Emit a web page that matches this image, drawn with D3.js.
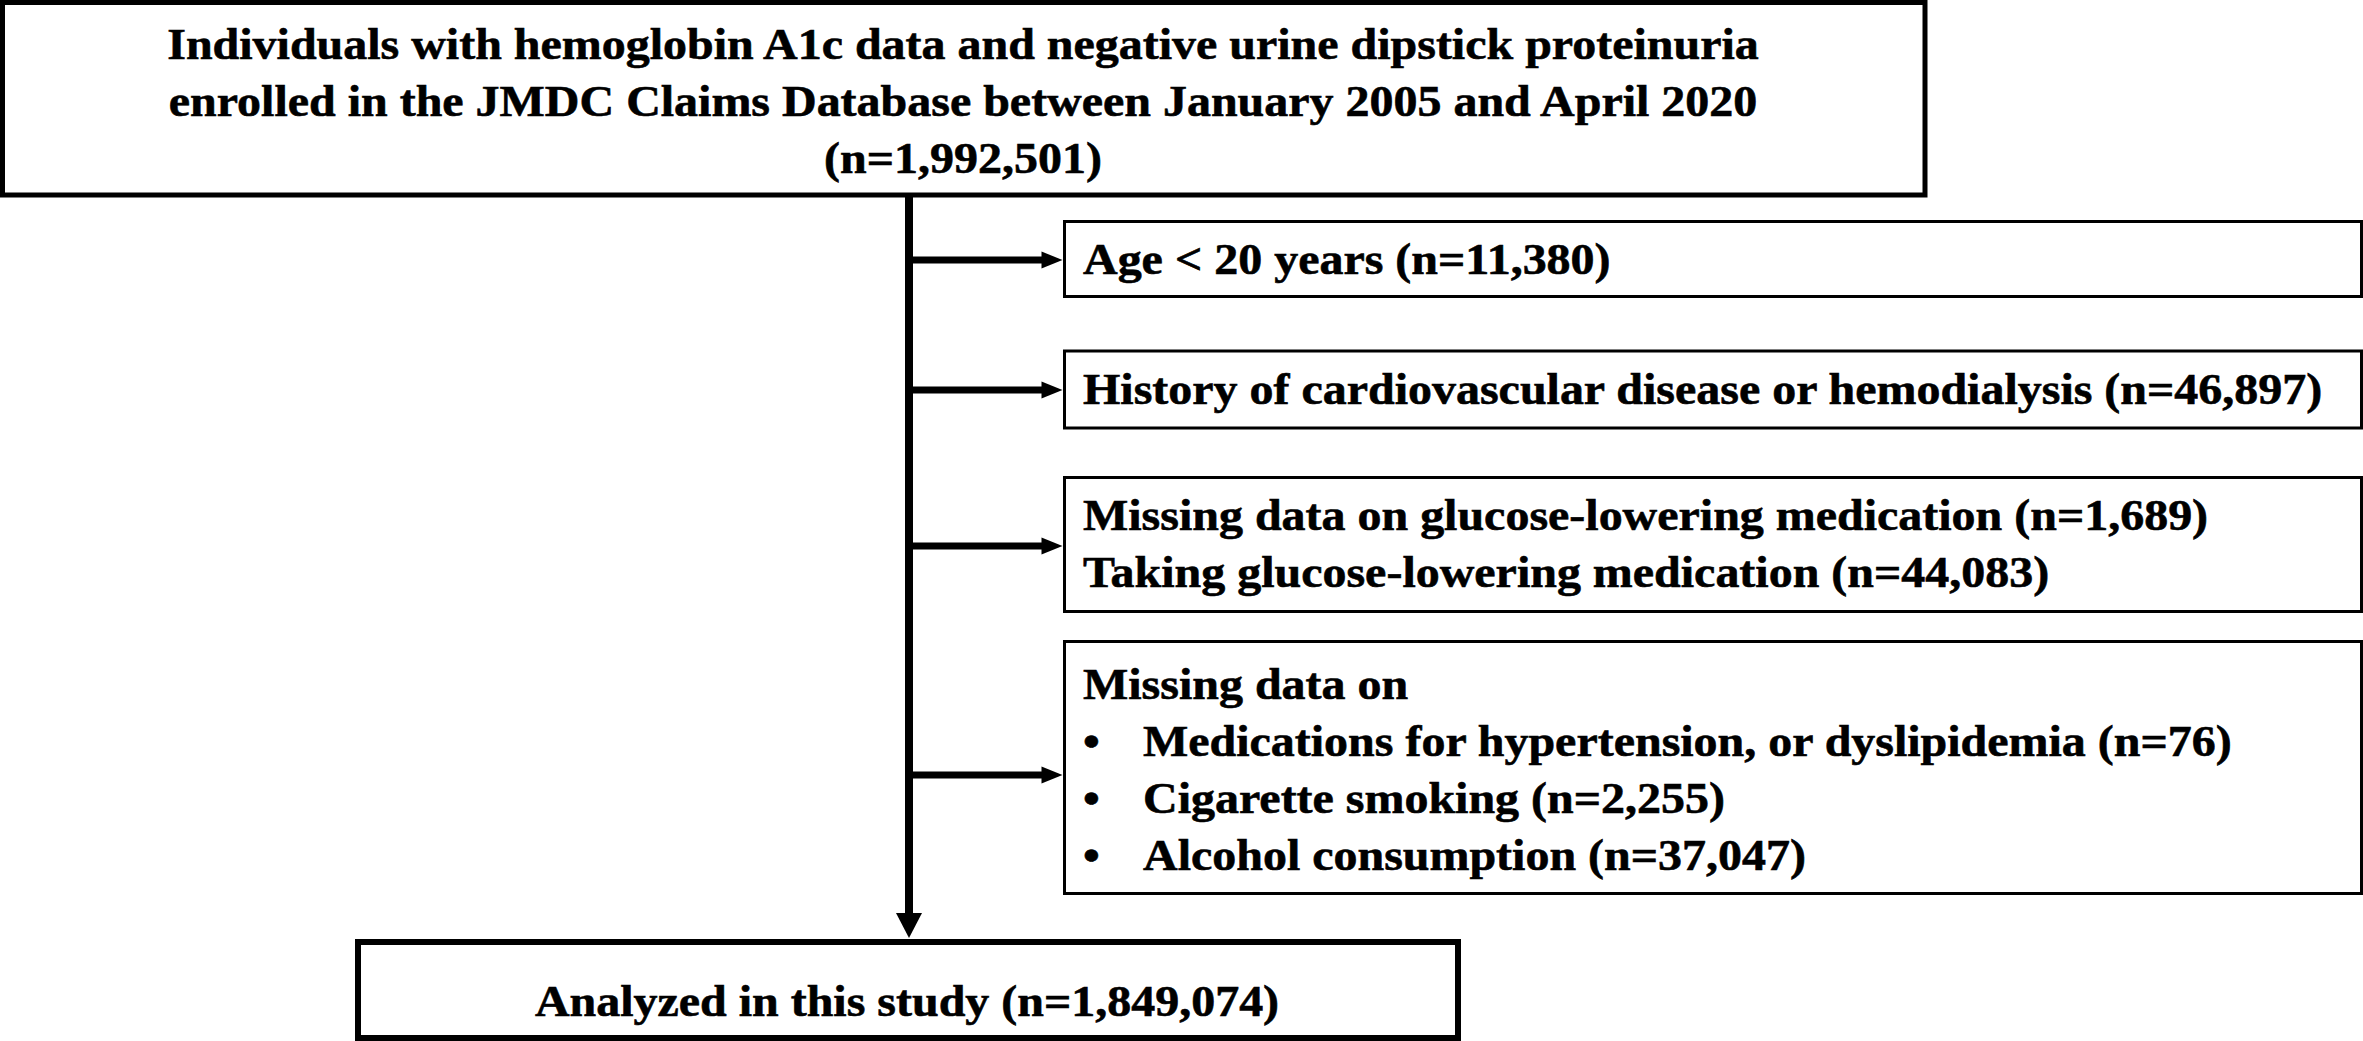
<!DOCTYPE html>
<html>
<head>
<meta charset="utf-8">
<script src="https://cdn.jsdelivr.net/npm/d3@7"></script>
<style>
  html, body { margin: 0; padding: 0; background: #fff; }
  svg { display: block; }
  text { font-family: "Liberation Serif", "Times New Roman", serif; font-weight: bold; fill: #000; stroke: #000; stroke-width: 0.6px; }
</style>
</head>
<body>
<div id="chart"></div>
<script>
// flow numbers
var totalN = 1992501;
var analyzedN = 1849074;

var topLines = [
  "Individuals with hemoglobin A1c data and negative urine dipstick proteinuria",
  "enrolled in the JMDC Claims Database between January 2005 and April 2020"
];
var analyzedLabel = "Analyzed in this study";

var exclusionHeaders = [null, null, null, "Missing data on"];
var exclusionItems = [
  ["Age < 20 years"],
  ["History of cardiovascular disease or hemodialysis"],
  ["Missing data on glucose-lowering medication", "Taking glucose-lowering medication"],
  ["Medications for hypertension, or dyslipidemia", "Cigarette smoking", "Alcohol consumption"]
];
var exclusionCounts = [
  [11380],
  [46897],
  [1689, 44083],
  [76, 2255, 37047]
];
var exclusionBulleted = [false, false, false, true];

var W = 2363, H = 1041;
var fmt = d3.format(",");
var nText = function(n) { return "(n=" + fmt(n) + ")"; };

// layout
var fontSize = 45, stretch = 1.066, lineH = 57;
var stemX = 909;
var exTop = [221.5, 351, 477.5, 641.5],
    exBottom = [296.5, 428, 611.5, 893.5],
    exArrowY = [260, 390, 546, 775],
    exLeft = 1064.5, exRight = 2361.5, textX = 1083;

var svg = d3.select("#chart")
  .append("svg")
  .attr("width", W)
  .attr("height", H);

function label(g, x, y, str, anchor) {
  return g.append("text")
    .attr("transform", "translate(" + x + "," + y + ") scale(" + stretch + ",1)")
    .attr("text-anchor", anchor || "start")
    .style("font-size", fontSize + "px")
    .text(str);
}

// top box
svg.append("rect")
  .attr("x", 2.5).attr("y", 2.5)
  .attr("width", 1922.5).attr("height", 192.5)
  .attr("fill", "none").attr("stroke", "#000").attr("stroke-width", 5);

var topText = topLines.concat([nText(totalN)]);
topText.forEach(function(t, i) {
  label(svg, 963, 59 + i * lineH, t, "middle");
});

// main stem + arrow down
svg.append("line")
  .attr("x1", stemX).attr("x2", stemX)
  .attr("y1", 197).attr("y2", 916)
  .attr("stroke", "#000").attr("stroke-width", 8);
svg.append("path")
  .attr("d", d3.line()([[stemX - 13, 913], [stemX + 13, 913], [stemX, 938]]) + "Z")
  .attr("fill", "#000");

// exclusion boxes
exclusionItems.forEach(function(items, i) {
  var g = svg.append("g");
  g.append("rect")
    .attr("x", exLeft).attr("y", exTop[i])
    .attr("width", exRight - exLeft).attr("height", exBottom[i] - exTop[i])
    .attr("fill", "none").attr("stroke", "#000").attr("stroke-width", 3);

  // arrow from stem
  var ay = exArrowY[i];
  g.append("line")
    .attr("x1", stemX).attr("x2", exLeft - 20)
    .attr("y1", ay).attr("y2", ay)
    .attr("stroke", "#000").attr("stroke-width", 7);
  g.append("path")
    .attr("d", d3.line()([[exLeft - 23, ay - 8.5], [exLeft - 23, ay + 8.5], [exLeft - 2, ay]]) + "Z")
    .attr("fill", "#000");

  var lines = [];
  if (exclusionHeaders[i]) lines.push({ t: exclusionHeaders[i], bullet: false });
  items.forEach(function(it, j) {
    lines.push({ t: it + " " + nText(exclusionCounts[i][j]), bullet: exclusionBulleted[i] });
  });

  var n = lines.length;
  var mid = (exTop[i] + exBottom[i]) / 2;
  var first = mid + 14 - (n - 1) * lineH / 2;
  if (i == 0) first = 274;
  if (i == 1) first = 404;
  if (i == 3) first = 699;
  lines.forEach(function(l, k) {
    var y = first + k * lineH;
    if (l.bullet) {
      label(g, 1083, y, "\u2022");
      label(g, 1143, y, l.t);
    } else {
      label(g, textX, y, l.t);
    }
  });
});

// bottom box
svg.append("rect")
  .attr("x", 358).attr("y", 942)
  .attr("width", 1100).attr("height", 96)
  .attr("fill", "none").attr("stroke", "#000").attr("stroke-width", 6);
label(svg, 907, 1016, analyzedLabel + " " + nText(analyzedN), "middle");
</script>
</body>
</html>
